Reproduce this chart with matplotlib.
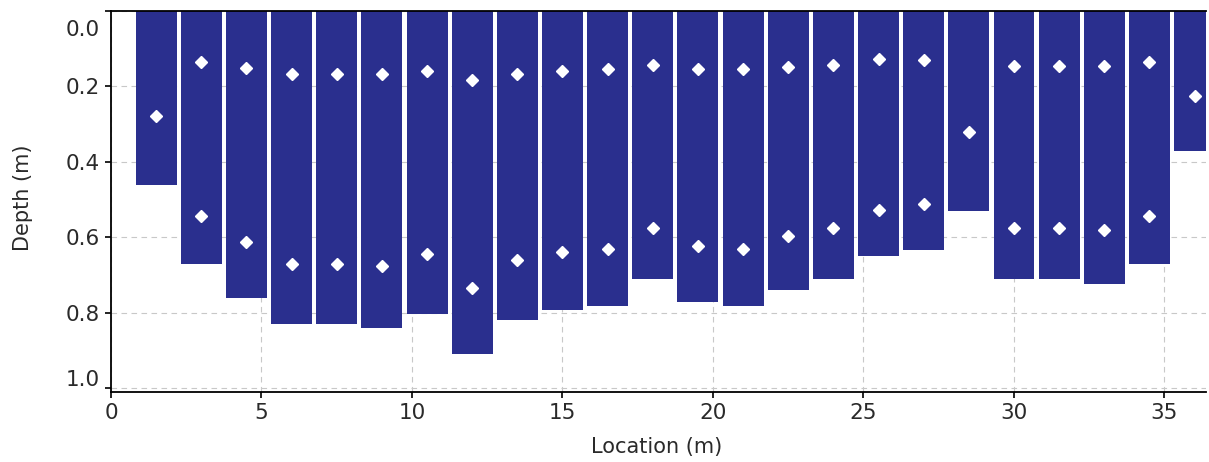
import numpy as np
import matplotlib.pyplot as plt
import matplotlib.transforms as mtransforms

# Station locations across the section (m)
stations = [1.5, 3, 4.5, 6, 7.5, 9, 10.5, 12, 13.5, 15, 16.5, 18,
            19.5, 21, 22.5, 24, 25.5, 27, 28.5, 30, 31.5, 33, 34.5, 36]

# Total depth at each station (m)
depths = [0.462, 0.670, 0.761, 0.829, 0.830, 0.842, 0.804, 0.910,
          0.820, 0.793, 0.782, 0.712, 0.771, 0.782, 0.739, 0.712,
          0.650, 0.633, 0.531, 0.712, 0.712, 0.724, 0.670, 0.372]

# Velocity measurement points: upper (0.2 depth) and lower (0.8 depth)
upper_x = [3, 4.5, 6, 7.5, 9, 10.5, 12, 13.5, 15, 16.5, 18, 19.5,
           21, 22.5, 24, 25.5, 27, 30, 31.5, 33, 34.5]
upper_d = [0.136, 0.150, 0.166, 0.166, 0.166, 0.160, 0.182, 0.166,
           0.160, 0.155, 0.144, 0.155, 0.155, 0.149, 0.144, 0.128,
           0.129, 0.146, 0.146, 0.146, 0.134]
lower_d = [0.544, 0.614, 0.670, 0.671, 0.677, 0.645, 0.736, 0.661,
           0.639, 0.630, 0.575, 0.624, 0.630, 0.597, 0.575, 0.527,
           0.511, 0.575, 0.575, 0.580, 0.544]

# Single-point (0.6 depth) stations
single_x = [1.5, 28.5, 36]
single_d = [0.279, 0.321, 0.226]

navy = "#2a2f8e"
text_col = "#2a2a2a"

fig = plt.figure(figsize=(12.09, 4.62), dpi=100)
ax = fig.add_axes([111 / 1209, 1 - 392 / 462, (1206 - 111) / 1209, (392 - 11) / 462])

ax.set_axisbelow(True)
ax.grid(True, color="#c8c8c8", linestyle=(0, (5, 4)), linewidth=0.8)

ax.bar(stations, depths, width=1.36, color=navy, align="center", zorder=2)

ax.plot(upper_x, upper_d, "D", color="white", markersize=6.5, zorder=3)
ax.plot(upper_x, lower_d, "D", color="white", markersize=6.5, zorder=3)
ax.plot(single_x, single_d, "D", color="white", markersize=6.5, zorder=3)

ax.set_xlim(0, 36.38)
ax.set_ylim(1.0106, 0)
ax.set_xticks(np.arange(0, 36, 5))
ax.set_yticks(np.arange(0, 1.01, 0.2))
ax.set_yticklabels(["0.0", "0.2", "0.4", "0.6", "0.8", "1.0"])

ax.spines["right"].set_visible(False)
for s in ["left", "bottom", "top"]:
    ax.spines[s].set_linewidth(1.3)
    ax.spines[s].set_color("black")

ax.tick_params(axis="both", direction="out", length=4, width=1.2,
               labelsize=15.5, colors="black", labelcolor=text_col, pad=4)

# keep the end labels inside the plot height
ylabels = ax.get_yticklabels()
ylabels[0].set_transform(ylabels[0].get_transform() +
                         mtransforms.ScaledTranslation(0, -17 / 100, fig.dpi_scale_trans))
ylabels[-1].set_transform(ylabels[-1].get_transform() +
                          mtransforms.ScaledTranslation(0, 10 / 100, fig.dpi_scale_trans))

ax.set_xlabel("Location (m)", fontsize=15, color=text_col)
ax.set_ylabel("Depth (m)", fontsize=15, color=text_col)
ax.xaxis.set_label_coords(0.4985, -0.118)
ax.yaxis.set_label_coords(-0.0715, 0.51)

fig.savefig("out.png", dpi=100)
